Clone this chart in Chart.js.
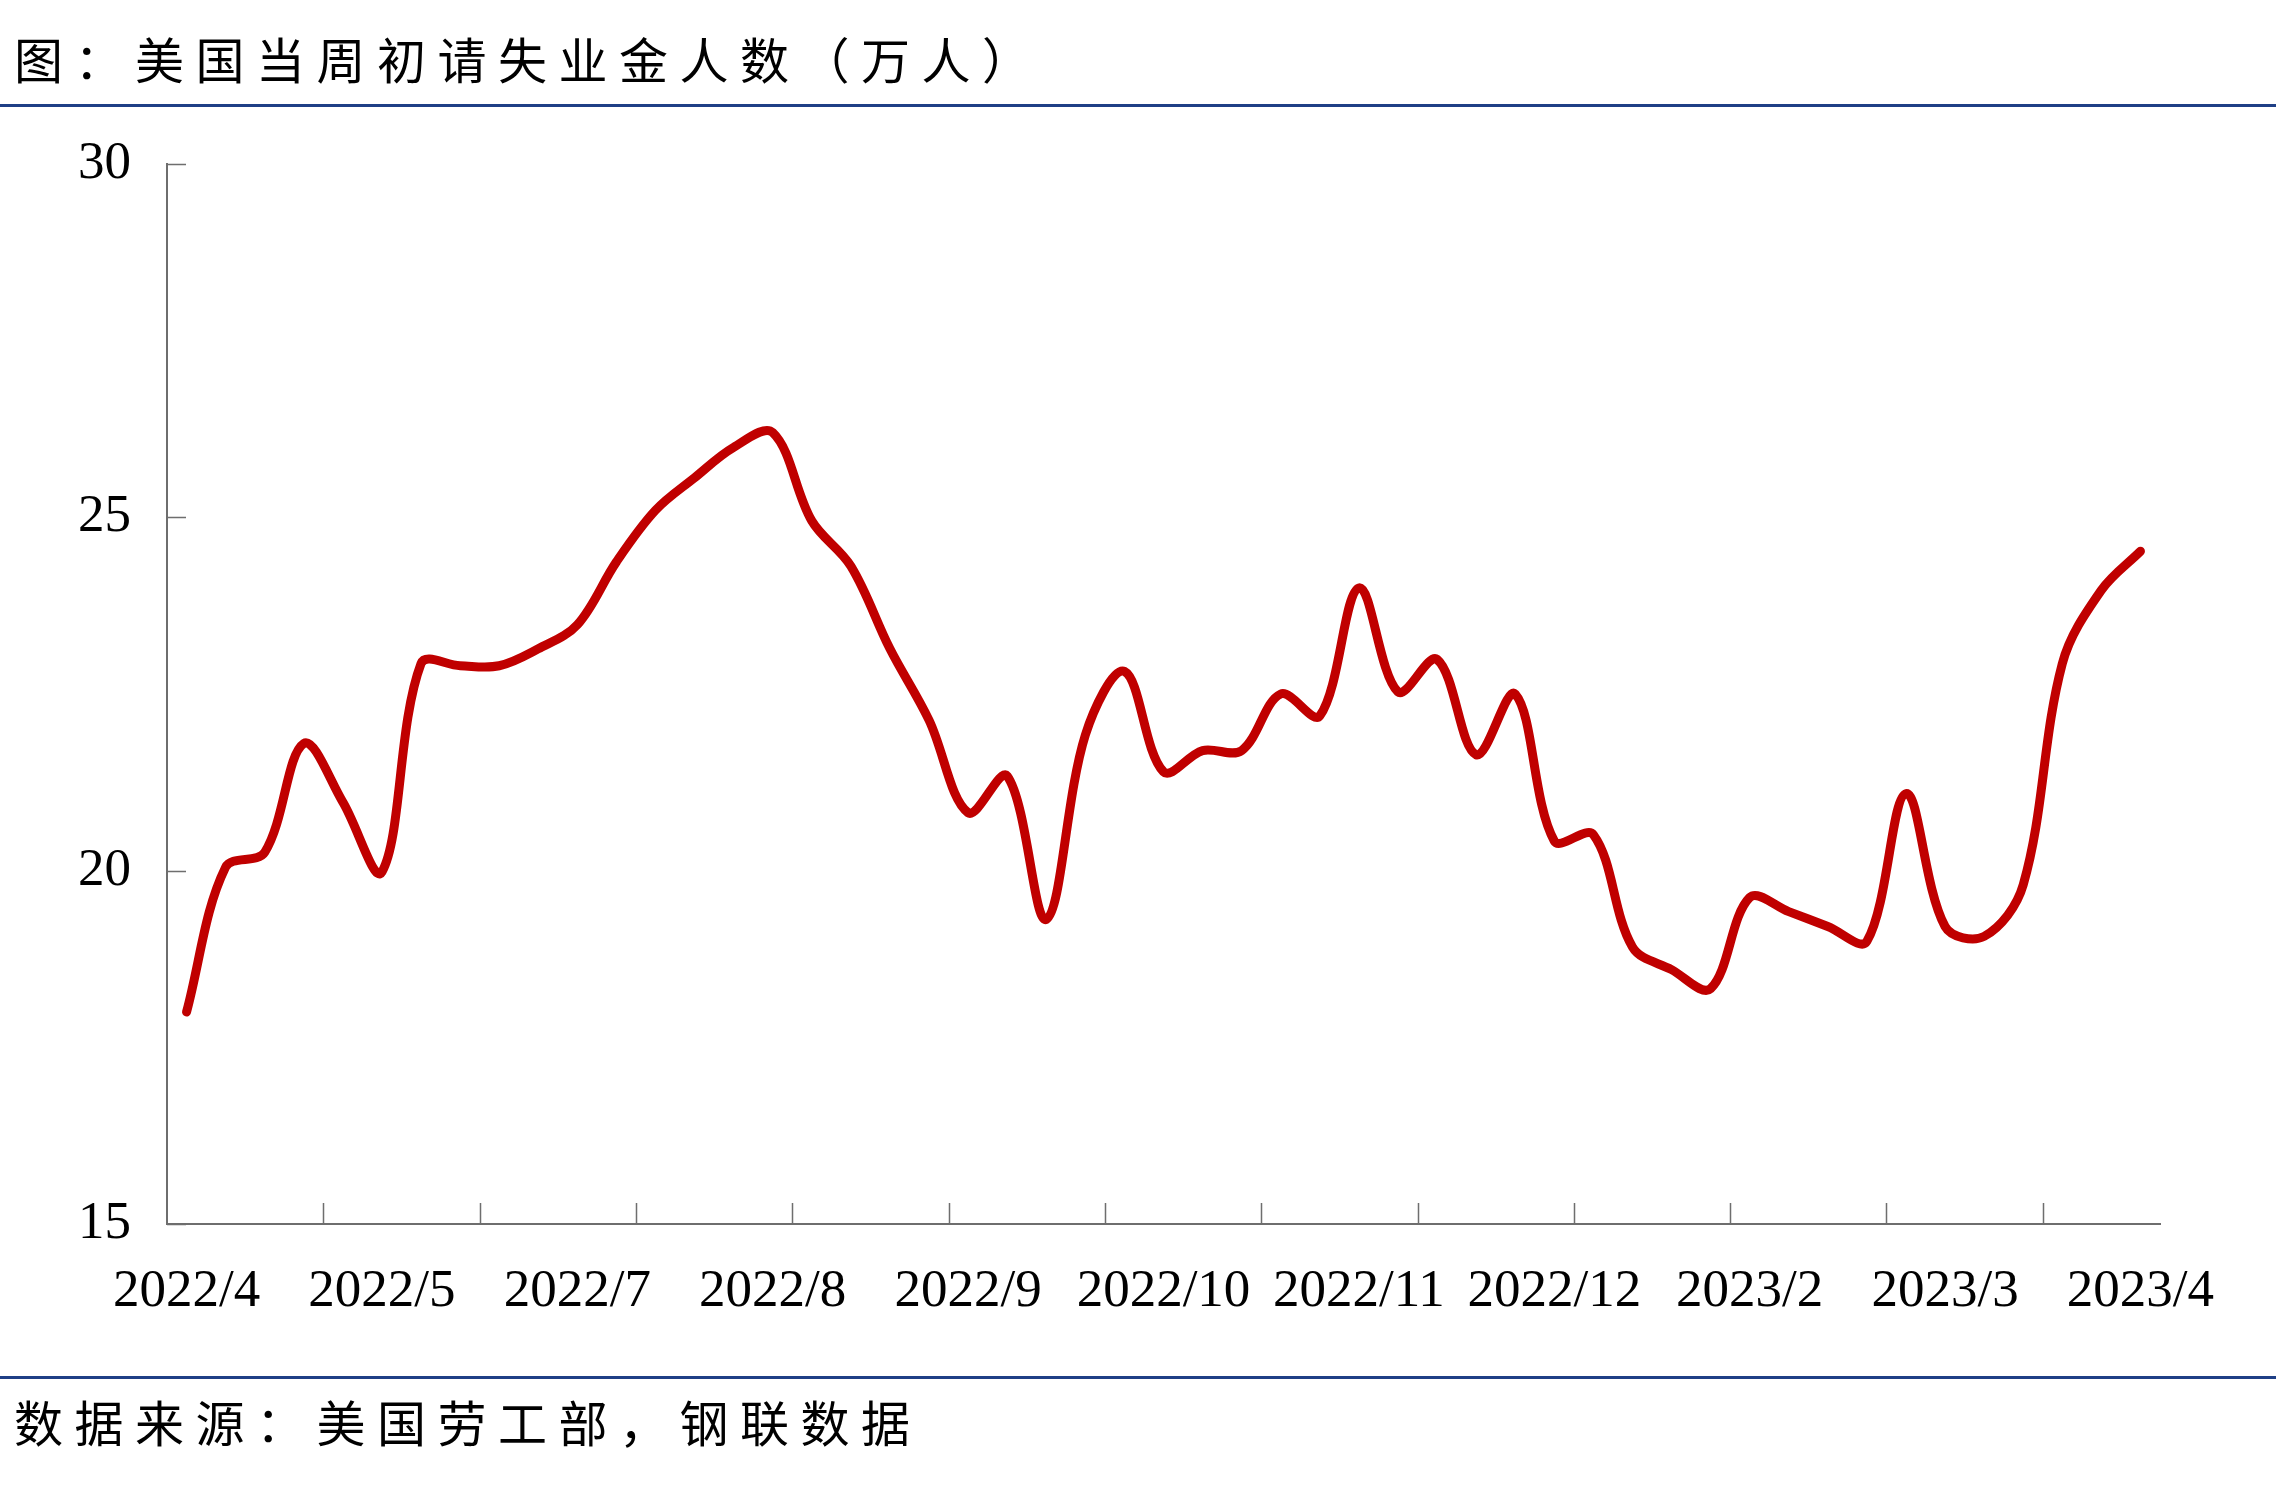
<!DOCTYPE html>
<html>
<head>
<meta charset="utf-8">
<title>美国当周初请失业金人数</title>
<script src="https://cdn.jsdelivr.net/npm/chart.js@4.4.1/dist/chart.umd.min.js"></script>
<style>
  html, body { margin: 0; padding: 0; background: #fff; }
  #wrap { position: relative; width: 2276px; height: 1485px; overflow: hidden; }
  .cap { position: absolute; left: 14px; font-family: "Noto Sans CJK SC"; font-size: 49px; line-height: 60px; letter-spacing: 11.5px; color: #000; white-space: nowrap; }
  #title { top: 28px; }
  #source { top: 1391px; }
  .rule { position: absolute; left: 0; width: 2276px; height: 3px; background: #1f3f86; }
  #chartBox { position: absolute; left: 0; top: 0; width: 2276px; height: 1485px; }
</style>
</head>
<body>
<div id="wrap">
  <div id="title" class="cap">图：美国当周初请失业金人数（万人）</div>
  <div class="rule" style="top:104px"></div>
  <div id="chartBox"><canvas id="claimsChart"></canvas></div>
  <div class="rule" style="top:1376px"></div>
  <div id="source" class="cap">数据来源：美国劳工部，钢联数据</div>
</div>

<script>
// weekly initial jobless claims, 10k persons
const claims = [
    18.0, 20.05, 20.26, 21.8, 20.97, 19.98, 22.93, 22.9, 22.9, 23.14,
    23.48, 24.37, 25.1, 25.56, 25.99, 26.2, 24.95, 24.31, 23.14, 22.13,
    20.82, 21.34, 19.31, 21.92, 22.82, 21.4, 21.7, 21.7, 22.5, 22.19,
    24.0, 22.53, 22.99, 21.64, 22.5, 20.42, 20.51, 18.92, 18.6, 18.33,
    19.62, 19.42, 19.21, 19.0, 21.09, 19.21, 19.07, 19.8, 22.93, 23.97,
    24.52
];
const tickLabels = ['2022/4', '2022/5', '2022/7', '2022/8', '2022/9', '2022/10',
    '2022/11', '2022/12', '2023/2', '2023/3', '2023/4'];
const labelEvery = 5;   // a date label every 5 weeks
const markEvery = 4;    // a tick mark every 4 weeks
const yTicks = [15, 20, 25, 30];

const categories = claims.map((v, i) => (i % labelEvery === 0 ? tickLabels[i / labelEvery] : ''));

const axisColor = '#6e6e6e';

// tick marks pointing into the plot, like the Excel original
const innerTicks = {
    id: 'innerTicks',
    afterDraw(chart) {
        const { ctx, chartArea, scales } = chart;
        ctx.save();
        ctx.strokeStyle = axisColor;
        ctx.lineWidth = 1.5;
        ctx.beginPath();
        yTicks.forEach((t) => {
            const y = Math.round(scales.y.getPixelForValue(t)) + 0.5;
            ctx.moveTo(chartArea.left, y);
            ctx.lineTo(chartArea.left + 19, y);
        });
        for (let i = markEvery; i < claims.length; i += markEvery) {
            const x = Math.round((scales.x.getPixelForValue(i - 1) + scales.x.getPixelForValue(i)) / 2) + 0.5;
            ctx.moveTo(x, chartArea.bottom);
            ctx.lineTo(x, chartArea.bottom - 21);
        }
        ctx.stroke();
        ctx.restore();
    }
};

const ctx = document.getElementById('claimsChart').getContext('2d');
new Chart(ctx, {
    type: 'line',
    data: {
        labels: categories,
        datasets: [{
            label: '当周初请失业金人数',
            data: claims,
            borderColor: '#c00000',
            borderWidth: 9,
            borderCapStyle: 'round',
            borderJoinStyle: 'round',
            pointRadius: 0,
            tension: 0.35,
            fill: false,
        }],
    },
    options: {
        responsive: true,
        maintainAspectRatio: false,
        animation: false,
        layout: {
            padding: { left: 0, right: 116, top: 164, bottom: 111 },
        },
        plugins: {
            legend: { display: false },
            tooltip: { enabled: false },
        },
        scales: {
            x: {
                type: 'category',
                offset: true,
                grid: { display: false, drawTicks: false },
                border: { display: true, color: axisColor, width: 2 },
                ticks: {
                    autoSkip: false,
                    maxRotation: 0,
                    minRotation: 0,
                    padding: 36,
                    color: '#000',
                    font: { family: 'Liberation Serif', size: 53 },
                },
                afterFit: (scale) => { scale.height = 150; },
            },
            y: {
                min: 15,
                max: 30,
                grid: { display: false, drawTicks: false },
                border: { display: true, color: axisColor, width: 2 },
                afterBuildTicks: (scale) => { scale.ticks = yTicks.map((v) => ({ value: v })); },
                ticks: {
                    padding: 36,
                    color: '#000',
                    font: { family: 'Liberation Serif', size: 53 },
                },
                afterFit: (scale) => { scale.width = 167; },
            },
        },
    },
    plugins: [innerTicks],
});
</script>
</body>
</html>
